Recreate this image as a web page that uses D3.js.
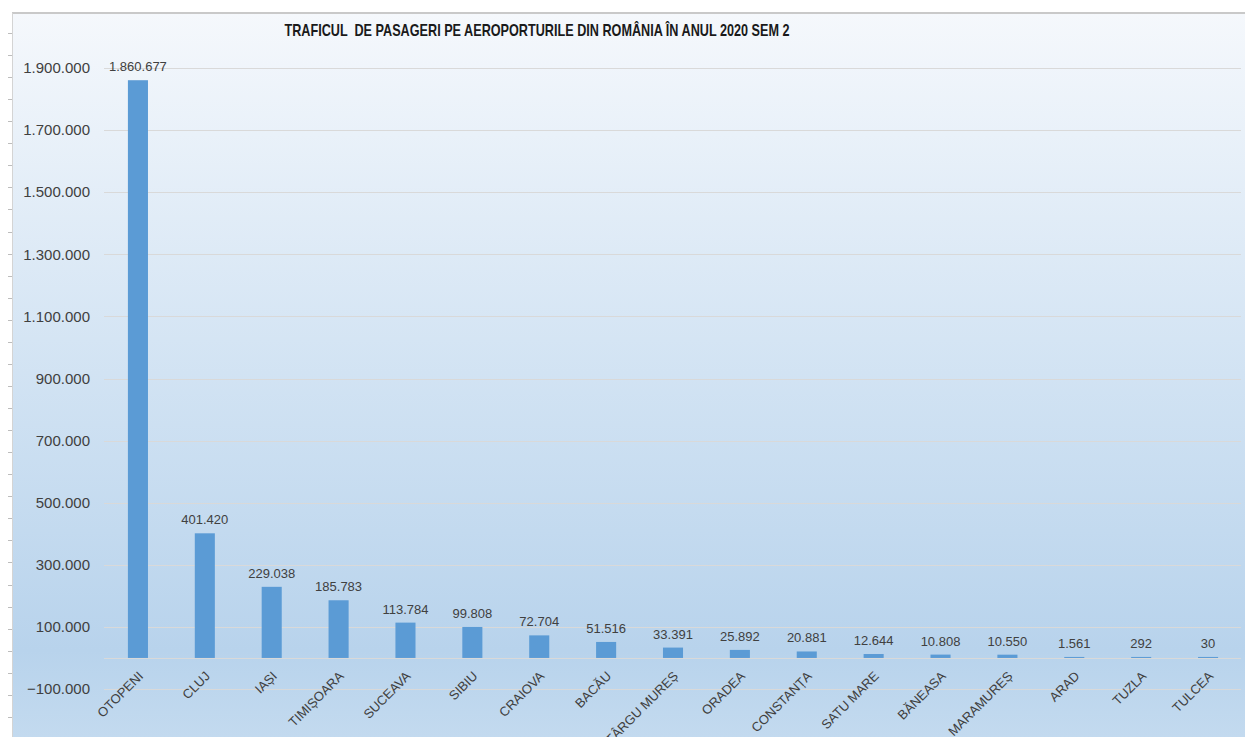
<!DOCTYPE html>
<html>
<head>
<meta charset="utf-8">
<script src="https://cdn.jsdelivr.net/npm/d3@7"></script>
<style>
  html, body { margin: 0; padding: 0; background: #fff; }
  svg { display: block; font-family: "Liberation Sans", Arial, sans-serif; }
</style>
</head>
<body>
<div id="chart"></div>
<script>
// values
var airports = ["OTOPENI", "CLUJ", "IAȘI", "TIMIȘOARA", "SUCEAVA", "SIBIU", "CRAIOVA", "BACĂU",
    "TÂRGU MUREȘ", "ORADEA", "CONSTANȚA", "SATU MARE", "BĂNEASA", "MARAMUREȘ", "ARAD", "TUZLA", "TULCEA"];
var passengers = [1860677, 401420, 229038, 185783, 113784, 99808, 72704, 51516,
    33391, 25892, 20881, 12644, 10808, 10550, 1561, 292, 30];
var yTicks = [-100000, 100000, 300000, 500000, 700000, 900000, 1100000, 1300000, 1500000, 1700000, 1900000];
var title = "TRAFICUL  DE PASAGERI PE AEROPORTURILE DIN ROMÂNIA ÎN ANUL 2020 SEM 2";

var width = 1245, height = 737;
var fmt = d3.formatLocale({decimal: ",", thousands: ".", grouping: [3], currency: ["", ""]}).format(",d");

var svg = d3.select("#chart").append("svg")
    .attr("width", width)
    .attr("height", height);

var defs = svg.append("defs");
var bg = defs.append("linearGradient")
    .attr("id", "bg")
    .attr("x1", "0%").attr("y1", "0%")
    .attr("x2", "0%").attr("y2", "100%");
bg.append("stop").attr("offset", "0%").attr("stop-color", "#f5f8fc");
bg.append("stop").attr("offset", "45%").attr("stop-color", "#d5e5f4");
bg.append("stop").attr("offset", "88%").attr("stop-color", "#b8d3ec");
bg.append("stop").attr("offset", "100%").attr("stop-color", "#c3daef");

// chart panel
svg.append("rect")
    .attr("x", 12).attr("y", 13)
    .attr("width", width - 12).attr("height", height - 13)
    .attr("fill", "url(#bg)");
svg.append("line")
    .attr("x1", 12).attr("x2", width).attr("y1", 13).attr("y2", 13)
    .attr("stroke", "#c9c9c9").attr("stroke-width", 2);
svg.append("line")
    .attr("x1", 12.5).attr("x2", 12.5).attr("y1", 13).attr("y2", height)
    .attr("stroke", "#d4d4d4").attr("stroke-width", 1);

// ruler ticks on the left edge
svg.append("g").selectAll("line")
    .data(d3.range(33, height, 22.06))
    .join("line")
    .attr("x1", 8).attr("x2", 12)
    .attr("y1", d => Math.round(d) + 0.5).attr("y2", d => Math.round(d) + 0.5)
    .attr("stroke", "#bdbdbd");

var x = d3.scaleBand()
    .domain(airports)
    .range([104.5, 1241.5])
    .paddingInner(0.7)
    .paddingOuter(0.35);

var y = d3.scaleLinear()
    .domain([-100000, 1900000])
    .range([689, 68]);

// gridlines
svg.append("g").selectAll("line")
    .data(yTicks)
    .join("line")
    .attr("x1", 104).attr("x2", 1241)
    .attr("y1", d => Math.round(y(d)) + 0.5)
    .attr("y2", d => Math.round(y(d)) + 0.5)
    .attr("stroke", "#d9d9d9")
    .attr("stroke-width", 1);

// category axis line at zero
svg.append("line")
    .attr("x1", 104).attr("x2", 1241)
    .attr("y1", Math.round(y(0)) + 0.5).attr("y2", Math.round(y(0)) + 0.5)
    .attr("stroke", "#d9d9d9");

// y axis labels
svg.append("g").selectAll("text")
    .data(yTicks)
    .join("text")
    .attr("x", 90)
    .attr("y", d => y(d))
    .attr("dy", "0.35em")
    .attr("text-anchor", "end")
    .attr("font-size", 15)
    .attr("fill", "#404040")
    .text(d => fmt(d));

// bars
svg.append("g").selectAll("rect")
    .data(passengers)
    .join("rect")
    .attr("x", (d, i) => x(airports[i]))
    .attr("width", x.bandwidth())
    .attr("y", d => Math.min(y(d), y(0) - 1))
    .attr("height", d => Math.max(1, y(0) - y(d)))
    .attr("fill", "#5b9bd5");

// data labels
svg.append("g").selectAll("text")
    .data(passengers)
    .join("text")
    .attr("x", (d, i) => x(airports[i]) + x.bandwidth() / 2)
    .attr("y", d => Math.min(y(d), y(0) - 1) - 9)
    .attr("text-anchor", "middle")
    .attr("font-size", 13)
    .attr("fill", "#404040")
    .text(d => fmt(d));

// category labels
svg.append("g").selectAll("text")
    .data(airports)
    .join("text")
    .attr("transform", d => "translate(" + (x(d) + x.bandwidth() / 2 + 6) + "," + (y(0) + 19) + ") rotate(-45)")
    .attr("text-anchor", "end")
    .attr("font-size", 13)
    .attr("fill", "#404040")
    .text(d => d);

// title
svg.append("text")
    .attr("x", 537)
    .attr("y", 36)
    .attr("text-anchor", "middle")
    .attr("font-size", 17)
    .attr("font-weight", "bold")
    .attr("fill", "#1a1a1a")
    .attr("textLength", 505)
    .attr("lengthAdjust", "spacingAndGlyphs")
    .style("white-space", "pre")
    .text(title);
</script>
</body>
</html>
